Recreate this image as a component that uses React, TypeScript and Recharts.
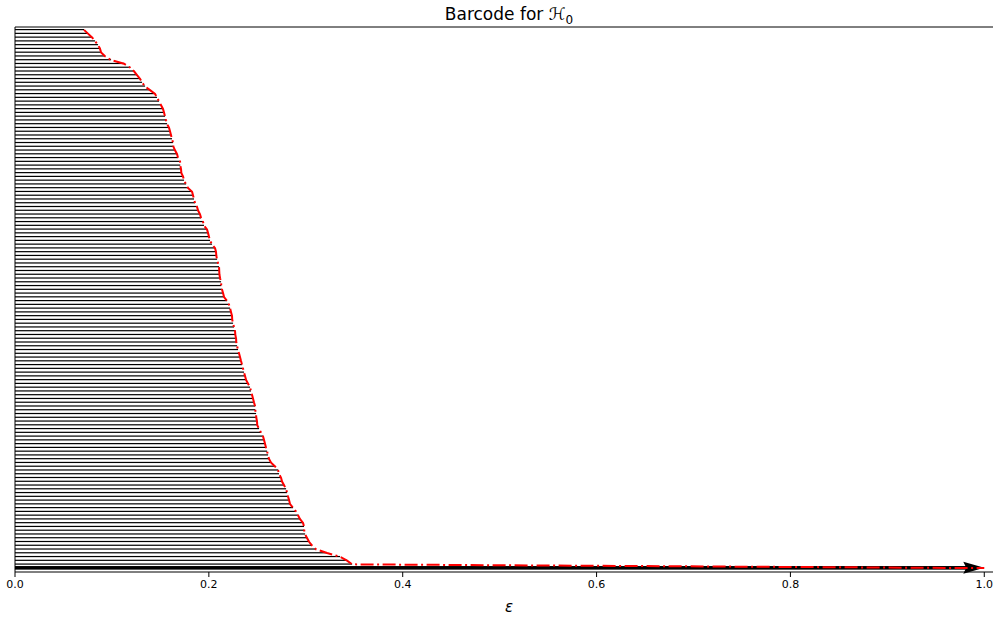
import React from 'react';
import { ComposedChart, Bar, Line, XAxis, YAxis } from 'recharts';

// death times of the finite H0 bars, listed from the top bar to the bottom bar
const deaths = [
  0.0712, 0.0753, 0.0795, 0.0826, 0.0857, 0.0877, 0.0888, 0.0929, 0.0991, 0.1125,
  0.1187, 0.1228, 0.1259, 0.129, 0.1311, 0.1342, 0.1393, 0.1445, 0.1465, 0.1486,
  0.1507, 0.1527, 0.1538, 0.1548, 0.1558, 0.1569, 0.1589, 0.16, 0.161, 0.162,
  0.1631, 0.1634, 0.1651, 0.1672, 0.1682, 0.1703, 0.1705, 0.1713, 0.1716, 0.1734,
  0.1744, 0.1765, 0.1785, 0.1827, 0.1837, 0.1847, 0.1858, 0.1878, 0.1889, 0.1909,
  0.192, 0.194, 0.195, 0.1981, 0.1992, 0.2002, 0.2012, 0.2033, 0.2064, 0.2074,
  0.2077, 0.2085, 0.2095, 0.2105, 0.2107, 0.2109, 0.2116, 0.2126, 0.2128, 0.2136,
  0.2147, 0.2157, 0.2188, 0.2208, 0.2219, 0.2229, 0.2239, 0.2241, 0.225, 0.226,
  0.227, 0.2273, 0.2281, 0.2283, 0.2291, 0.2301, 0.2312, 0.2322, 0.2332, 0.2343,
  0.2353, 0.2363, 0.2374, 0.2384, 0.2405, 0.2425, 0.2435, 0.2446, 0.2456, 0.2466,
  0.2477, 0.2479, 0.2487, 0.2489, 0.2497, 0.2499, 0.2518, 0.2539, 0.2559, 0.257,
  0.258, 0.259, 0.2601, 0.2611, 0.2621, 0.2642, 0.2683, 0.2714, 0.2724, 0.2745,
  0.2755, 0.2776, 0.2797, 0.2807, 0.2817, 0.2828, 0.2838, 0.2869, 0.29, 0.2921,
  0.2941, 0.2972, 0.2982, 0.2984, 0.2993, 0.3013, 0.3034, 0.3065, 0.3106, 0.322,
  0.3354, 0.3426, 0.3478,
];
// the one bar that never dies is drawn up to the right end of the range
const infiniteDeath = 1.0;
const xTicks = [0, 0.2, 0.4, 0.6, 0.8, 1.0];
const xDomain = [0, 1.009];

const data = [
  ...deaths.map((d, i) => ({ id: `b${i}`, death: d, inf: false })),
  { id: 'inf', death: infiniteDeath, inf: true },
];

const BarShape = (props: any) => {
  const { x, y, width, height, payload } = props;
  const cy = y + height / 2;
  if (payload && payload.inf) {
    const tip = x + width;
    return (
      <g>
        <rect x={x} y={cy - 1.8} width={Math.max(0, width - 16)} height={3.6} fill="#000" />
        <polygon
          points={`${tip},${cy} ${tip - 21},${cy - 6} ${tip - 18},${cy} ${tip - 21},${cy + 6}`}
          fill="#000"
        />
      </g>
    );
  }
  return <rect x={x} y={cy - 0.6} width={width} height={1.2} fill="#000" />;
};

const font = 'DejaVu Sans, sans-serif';

export default function App() {
  return (
    <div style={{ position: 'absolute', left: 0, top: 0, width: 993, height: 618, fontFamily: font }}>
      <div
        style={{
          position: 'absolute',
          left: 509,
          top: 3,
          transform: 'translateX(-50%)',
          fontSize: 17,
          color: '#000',
          whiteSpace: 'nowrap',
          lineHeight: '22px',
        }}
      >
        Barcode for <span style={{ fontFamily: font }}>ℋ</span>
        <sub style={{ fontSize: 12 }}>0</sub>
      </div>
      <div
        style={{
          position: 'absolute',
          left: 509,
          top: 598,
          transform: 'translateX(-50%)',
          fontSize: 15,
          fontStyle: 'italic',
          color: '#000',
          lineHeight: '18px',
        }}
      >
        ε
      </div>
      <ComposedChart
        width={993}
        height={618}
        data={data}
        layout="vertical"
        margin={{ top: 26, right: 0, bottom: 0, left: 14 }}
        barCategoryGap={0}
      >
        <XAxis
          type="number"
          domain={xDomain}
          ticks={xTicks}
          allowDataOverflow
          tickFormatter={(v: number) => v.toFixed(1)}
          height={46}
          tickSize={5}
          tickMargin={3}
          axisLine={{ stroke: '#000', strokeWidth: 1 }}
          tickLine={{ stroke: '#000', strokeWidth: 1 }}
          tick={{ fontSize: 11, fill: '#000', fontFamily: font }}
        />
        <XAxis
          xAxisId="top"
          orientation="top"
          type="number"
          domain={xDomain}
          ticks={xTicks}
          allowDataOverflow
          height={1}
          tick={false}
          tickLine={false}
          axisLine={{ stroke: '#000', strokeWidth: 1 }}
        />
        <YAxis
          type="category"
          dataKey="id"
          width={1}
          tick={false}
          tickLine={false}
          padding={{ top: 1, bottom: 2 }}
          axisLine={{ stroke: '#000', strokeWidth: 1 }}
        />
        <Bar dataKey="death" barSize={1.2} shape={BarShape} isAnimationActive={false} />
        <Line
          dataKey="death"
          type="linear"
          stroke="#ff0000"
          strokeWidth={2}
          strokeDasharray="13 3.5 2 3.5"
          dot={false}
          activeDot={false}
          isAnimationActive={false}
        />
      </ComposedChart>
    </div>
  );
}
